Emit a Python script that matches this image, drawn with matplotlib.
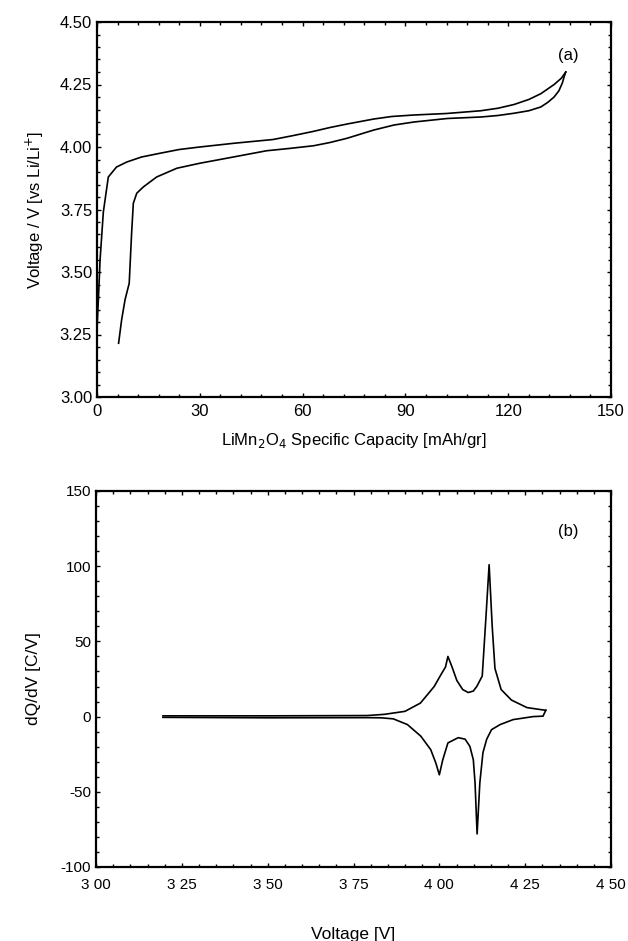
import matplotlib
matplotlib.use("Agg")
from matplotlib import pyplot as plt
from matplotlib.ticker import MultipleLocator, FixedLocator

plt.rcParams["font.family"] = ["Liberation Sans", "DejaVu Sans"]
plt.rcParams["axes.unicode_minus"] = False

# (a) charge / discharge curves: capacity [mAh/gr] vs voltage [V]
charge_cap = [0.0, 0.5, 0.9, 1.85, 3.3, 5.7, 8.7, 13, 18.4, 24, 30, 40, 51.4,
              57, 63.0, 68, 73, 80.8, 86, 92.5, 102, 112, 117, 121.7, 126,
              129.5, 133.4, 135.5, 136.8]
charge_v = [3.27, 3.42, 3.55, 3.74, 3.88, 3.92, 3.94, 3.96, 3.975, 3.99, 4.00,
            4.015, 4.03, 4.045, 4.062, 4.078, 4.092, 4.112, 4.122, 4.128,
            4.134, 4.145, 4.155, 4.17, 4.19, 4.213, 4.25, 4.275, 4.30]

discharge_cap = [136.8, 136.3, 135.8, 134.8, 133.4, 131.5, 129.5, 126, 121.7,
                 117, 112, 102.2, 92.5, 86.7, 80.8, 77, 73, 68, 63.2, 56,
                 49.5, 39.8, 30, 23.3, 17.4, 13.5, 11.6, 10.6, 10.1, 9.4, 8.2,
                 7.2, 6.3]
discharge_v = [4.30, 4.28, 4.256, 4.225, 4.20, 4.178, 4.16, 4.145, 4.135, 4.126,
               4.12, 4.114, 4.10, 4.088, 4.068, 4.052, 4.035, 4.018, 4.005,
               3.994, 3.985, 3.96, 3.935, 3.915, 3.88, 3.84, 3.815, 3.775, 3.655,
               3.455, 3.39, 3.31, 3.215]

# (b) differential capacity dQ/dV [C/V] vs voltage [V]
dqdv_charge_v = [3.195, 3.50, 3.79, 3.84, 3.90, 3.945, 3.985, 4.005, 4.018, 4.025,
                 4.037, 4.051, 4.068, 4.084, 4.099, 4.109, 4.125, 4.136, 4.145,
                 4.154, 4.162, 4.180, 4.210, 4.255, 4.30, 4.31]
dqdv_charge = [0.5, 0.5, 0.7, 1.5, 3.5, 9, 20, 28, 33, 40,
               33, 24, 18, 16, 17, 20, 27, 67, 101,
               60, 32, 18, 11, 6, 4.5, 4.2]

dqdv_discharge_v = [4.31, 4.302, 4.273, 4.215, 4.177, 4.152, 4.138, 4.127,
                    4.118, 4.11, 4.104, 4.099, 4.089, 4.075, 4.055, 4.025,
                    4.01, 4.0, 3.99, 3.975, 3.946, 3.907, 3.866, 3.83, 3.79,
                    3.50, 3.195]
dqdv_discharge = [4.2, 0.3, 0, -2, -5.3, -8.7, -15, -24,
                  -44, -78, -44, -28.7, -19.8, -15, -14, -17.5,
                  -28.7, -38.7, -31, -22, -13, -5.3, -1.5, -0.8, -0.7,
                  -0.8, -0.5]

x_ticks_b = [3.00, 3.25, 3.50, 3.75, 4.00, 4.25, 4.50]
x_labels_b = ["3 00", "3 25", "3 50", "3 75", "4 00", "4 25", "4 50"]


def style_axes(ax, size):
    for s in ax.spines.values():
        s.set_linewidth(1.6)
    ax.tick_params(which="both", direction="in", top=True, right=True,
                   labelsize=size, width=1.0)
    ax.tick_params(which="major", length=3)
    ax.tick_params(which="minor", length=2)


fig = plt.figure(figsize=(6.28, 9.41), dpi=100)

ax1 = fig.add_axes([97 / 628, 1 - 397 / 941, 514 / 628, 375 / 941])
ax1.plot(charge_cap, charge_v, color="black", lw=1.2)
ax1.plot(discharge_cap, discharge_v, color="black", lw=1.2)
ax1.set_xlim(0, 150)
ax1.set_ylim(3.0, 4.5)
ax1.xaxis.set_major_locator(MultipleLocator(30))
ax1.xaxis.set_minor_locator(MultipleLocator(6))
ax1.yaxis.set_major_locator(MultipleLocator(0.25))
ax1.yaxis.set_minor_locator(MultipleLocator(0.05))
ax1.yaxis.set_major_formatter(plt.FormatStrFormatter("%.2f"))
style_axes(ax1, 12)
ax1.tick_params(axis="x", pad=5)
ax1.set_xlabel("LiMn$_2$O$_4$ Specific Capacity [mAh/gr]", fontsize=12, labelpad=9)
ax1.set_ylabel("Voltage / V [vs Li/Li$^{+}$]", fontsize=12, labelpad=10)
ax1.text(137.5, 4.365, "(a)", fontsize=12, ha="center", va="center")

ax2 = fig.add_axes([96 / 628, 1 - 867 / 941, 515 / 628, 376 / 941])
ax2.plot(dqdv_charge_v, dqdv_charge, color="black", lw=1.2)
ax2.plot(dqdv_discharge_v, dqdv_discharge, color="black", lw=1.2)
ax2.set_xlim(3.0, 4.5)
ax2.set_ylim(-100, 150)
ax2.xaxis.set_major_locator(FixedLocator(x_ticks_b))
ax2.set_xticklabels(x_labels_b)
ax2.xaxis.set_minor_locator(MultipleLocator(0.05))
ax2.yaxis.set_major_locator(MultipleLocator(50))
ax2.yaxis.set_minor_locator(MultipleLocator(10))
style_axes(ax2, 11)
ax2.tick_params(axis="x", pad=8)
ax2.set_xlabel("Voltage [V]", fontsize=12.5, labelpad=25)
ax2.set_ylabel("dQ/dV [C/V]", fontsize=12.5, labelpad=14)
ax2.text(4.375, 123, "(b)", fontsize=12, ha="center", va="center")

fig.savefig("out.png", dpi=100)
